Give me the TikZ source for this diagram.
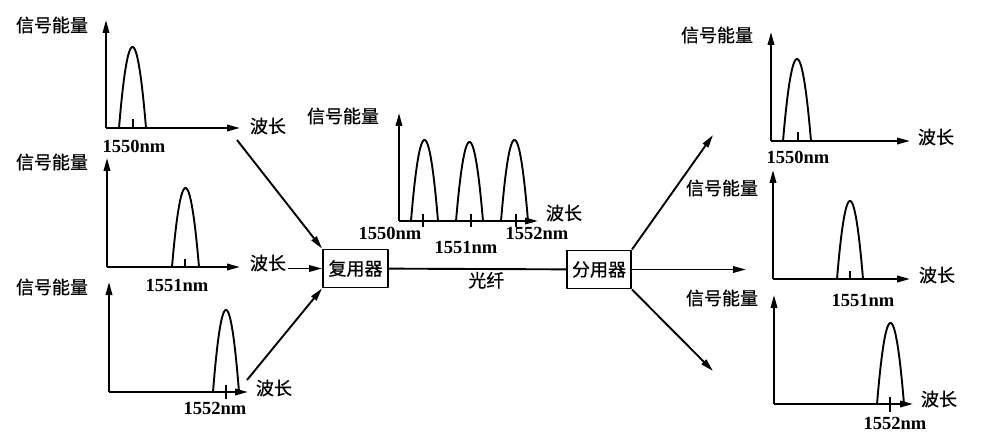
\documentclass[tikz,border=0pt]{standalone}
\usepackage{fontspec}
\setmainfont{Liberation Serif}
\newfontfamily\cjk[FakeBold=0.6]{Noto Sans CJK SC}
\usetikzlibrary{arrows.meta}
% one narrow peak: center, half width, base row, top row
\newcommand{\peak}[4]{\draw plot[domain=-1:1,samples=41,smooth,variable=\t] ({#1+#2*\t},{#3-(#3-#4)*(1-\t*\t)});}
\tikzset{
  zh/.style={font=\cjk\fontsize{18}{18}\selectfont,inner sep=1pt},
  nm/.style={font=\bfseries\fontsize{18.5}{18.5}\selectfont,inner sep=0pt},
  unitbox/.style={draw,zh,minimum height=38pt,inner sep=1pt},
  tick/.style={line width=1.6pt},
}
\begin{document}
\begin{tikzpicture}[x=1pt,y=-1pt,line width=1.9pt,line join=round,>={Triangle[length=13pt,width=6.5pt]}]
\useasboundingbox (0,0) rectangle (981,446);
% ---- input 1550nm
\draw[->] (106,128)--(106,20);
\draw[->] (106,128)--(240,128);
\node[zh] (e1) at (52,25) {信号能量};
\node[zh] (w1) at (268,126) {波长};
\peak{132.5}{13.5}{128}{47}
\draw[tick] (133,119)--(133,128);
\node[nm] (n1) at (134,146) {1550nm};
% ---- input 1551nm
\draw[->] (107,267)--(107,158);
\draw[->] (107,267)--(240,267);
\node[zh] (e2) at (52,162) {信号能量};
\node[zh] (w2) at (268,263) {波长};
\peak{185.5}{13.5}{267}{188}
\draw[tick] (185,259)--(185,267);
\node[nm] (n2) at (177,285) {1551nm};
% ---- input 1552nm
\draw[->] (109,392)--(109,282);
\draw[->] (109,392)--(248,392);
\node[zh] (e3) at (52,287) {信号能量};
\node[zh] (w3) at (274,388) {波长};
\peak{226}{13}{392}{310}
\draw[tick] (226,385)--(226,399);
\node[nm] (n3) at (215,408) {1552nm};
% ---- multiplexer, fibre, demultiplexer
\node[unitbox,minimum width=65pt] (mux) at (355.5,268.5) {复用器};
\node[unitbox,minimum width=64pt] (demux) at (599,269.5) {分用器};
\coordinate (in1) at (237,140);
\coordinate (in3) at (247,380);
\draw[->] (in1)--(mux.north west);
\draw[->] (w2.east |- mux.west)--(mux.west);
\draw[->] (in3)--(mux.south west);
\draw (mux)--(demux) node[zh,pos=0.55,below=1pt] (fibre) {光纤};
\coordinate (out1) at (713,135);
\coordinate (out2) at (746,269.5);
\coordinate (out3) at (713,371);
\draw[->] (demux.north east)--(out1);
\draw[->] (demux.east)--(out2);
\draw[->] (demux.south east)--(out3);
% ---- combined spectrum on the fibre
\draw[->] (399,221)--(399,113);
\draw[->] (399,221)--(538,221);
\node[zh] (em) at (343,116) {信号能量};
\node[zh] (wm) at (564,213) {波长};
\peak{424.5}{13.5}{221}{140}
\peak{469.5}{13.5}{221}{142}
\peak{514.5}{13.5}{221}{140}
\foreach \k in {423,471,516}
  \draw[tick] (\k,214)--(\k,227);
\node[nm] (m1) at (390,233) {1550nm};
\node[nm] (m2) at (466,247) {1551nm};
\node[nm] (m3) at (537,233) {1552nm};
% ---- output 1550nm
\draw[->] (771,141)--(771,32);
\draw[->] (771,141)--(910,141);
\node[zh] (r1) at (717,35) {信号能量};
\node[zh] (v1) at (936,137) {波长};
\peak{797}{14}{141}{59}
\draw[tick] (798,132)--(798,141);
\node[nm] (p1) at (798,157) {1550nm};
% ---- output 1551nm
\draw[->] (773,279)--(773,170);
\draw[->] (773,279)--(910,279);
\node[zh] (r2) at (722,188) {信号能量};
\node[zh] (v2) at (937,275) {波长};
\peak{850}{13}{279}{201}
\draw[tick] (850,271)--(850,279);
\node[nm] (p2) at (863,300) {1551nm};
% ---- output 1552nm
\draw[->] (774,404)--(774,295);
\draw[->] (774,404)--(913,404);
\node[zh] (r3) at (722,298) {信号能量};
\node[zh] (v3) at (939,399) {波长};
\peak{890.5}{13.5}{404}{323}
\draw[tick] (890,397)--(890,412);
\node[nm] (p3) at (895,423) {1552nm};
\end{tikzpicture}
\end{document}
